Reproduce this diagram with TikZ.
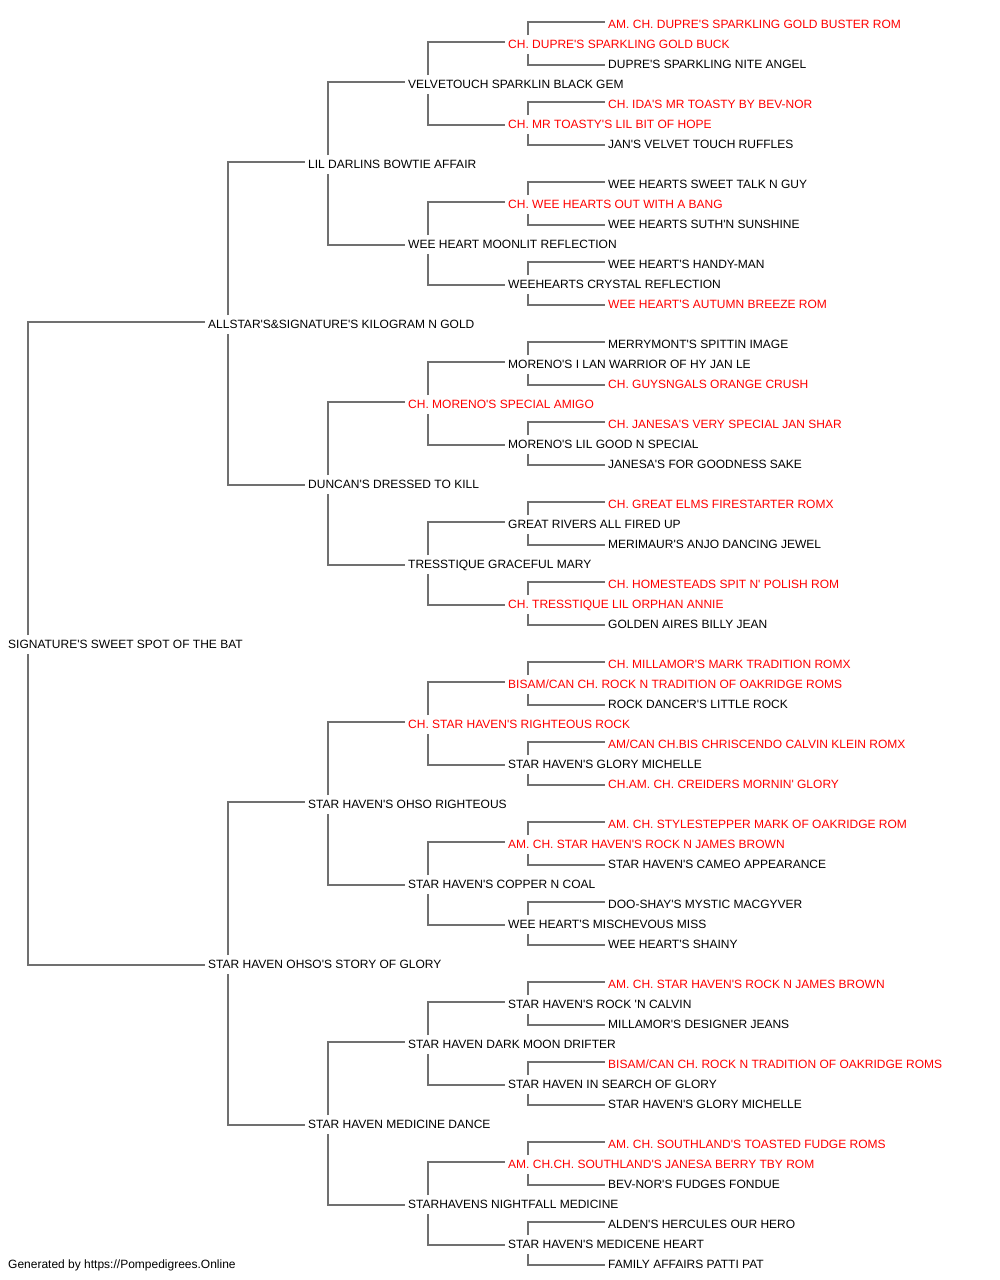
\documentclass[tikz,border=0pt]{standalone}
\usepackage{fontspec}
\setmainfont{Liberation Sans}[Ligatures=TeXOff]
\usetikzlibrary{calc}
\definecolor{pedred}{HTML}{FF0000}
\definecolor{pedline}{HTML}{707070}
\tikzset{
  pedtext/.style={anchor=west,inner sep=0pt,text height=8.6pt,text depth=0pt,font=\fontsize{12}{14}\selectfont},
  champ/.style={pedtext,text=pedred},
  plainname/.style={pedtext,text=black},
  conn/.style={draw=pedline,line width=1.1pt}
}
\newcommand\pr[3]{\node[champ] (n#1) at (#2,{24+20*#1}) {#3};}
\newcommand\pb[3]{\node[plainname] (n#1) at (#2,{24+20*#1}) {#3};}
\newcommand\pedlink[3]{%
  \draw[conn] ($(n#1.west)+(20,-9)$) |- ($(n#2.west)+(-3,-2)$);
  \draw[conn] ($(n#1.west)+(20,10)$) |- ($(n#3.west)+(-3,1)$);}
\begin{document}
\begin{tikzpicture}[x=1pt,y=-1pt]
\useasboundingbox[fill=white] (0,0) rectangle (1000,1280);
\pr{0}{608}{AM. CH. DUPRE'S SPARKLING GOLD BUSTER ROM}
\pr{1}{508}{CH. DUPRE'S SPARKLING GOLD BUCK}
\pb{2}{608}{DUPRE'S SPARKLING NITE ANGEL}
\pb{3}{408}{VELVETOUCH SPARKLIN BLACK GEM}
\pr{4}{608}{CH. IDA'S MR TOASTY BY BEV-NOR}
\pr{5}{508}{CH. MR TOASTY'S LIL BIT OF HOPE}
\pb{6}{608}{JAN'S VELVET TOUCH RUFFLES}
\pb{7}{308}{LIL DARLINS BOWTIE AFFAIR}
\pb{8}{608}{WEE HEARTS SWEET TALK N GUY}
\pr{9}{508}{CH. WEE HEARTS OUT WITH A BANG}
\pb{10}{608}{WEE HEARTS SUTH'N SUNSHINE}
\pb{11}{408}{WEE HEART MOONLIT REFLECTION}
\pb{12}{608}{WEE HEART'S HANDY-MAN}
\pb{13}{508}{WEEHEARTS CRYSTAL REFLECTION}
\pr{14}{608}{WEE HEART'S AUTUMN BREEZE ROM}
\pb{15}{208}{ALLSTAR'S\&SIGNATURE'S KILOGRAM N GOLD}
\pb{16}{608}{MERRYMONT'S SPITTIN IMAGE}
\pb{17}{508}{MORENO'S I LAN WARRIOR OF HY JAN LE}
\pr{18}{608}{CH. GUYSNGALS ORANGE CRUSH}
\pr{19}{408}{CH. MORENO'S SPECIAL AMIGO}
\pr{20}{608}{CH. JANESA'S VERY SPECIAL JAN SHAR}
\pb{21}{508}{MORENO'S LIL GOOD N SPECIAL}
\pb{22}{608}{JANESA'S FOR GOODNESS SAKE}
\pb{23}{308}{DUNCAN'S DRESSED TO KILL}
\pr{24}{608}{CH. GREAT ELMS FIRESTARTER ROMX}
\pb{25}{508}{GREAT RIVERS ALL FIRED UP}
\pb{26}{608}{MERIMAUR'S ANJO DANCING JEWEL}
\pb{27}{408}{TRESSTIQUE GRACEFUL MARY}
\pr{28}{608}{CH. HOMESTEADS SPIT N' POLISH ROM}
\pr{29}{508}{CH. TRESSTIQUE LIL ORPHAN ANNIE}
\pb{30}{608}{GOLDEN AIRES BILLY JEAN}
\pb{31}{8}{SIGNATURE'S SWEET SPOT OF THE BAT}
\pr{32}{608}{CH. MILLAMOR'S MARK TRADITION ROMX}
\pr{33}{508}{BISAM/CAN CH. ROCK N TRADITION OF OAKRIDGE ROMS}
\pb{34}{608}{ROCK DANCER'S LITTLE ROCK}
\pr{35}{408}{CH. STAR HAVEN'S RIGHTEOUS ROCK}
\pr{36}{608}{AM/CAN CH.BIS CHRISCENDO CALVIN KLEIN ROMX}
\pb{37}{508}{STAR HAVEN'S GLORY MICHELLE}
\pr{38}{608}{CH.AM. CH. CREIDERS MORNIN' GLORY}
\pb{39}{308}{STAR HAVEN'S OHSO RIGHTEOUS}
\pr{40}{608}{AM. CH. STYLESTEPPER MARK OF OAKRIDGE ROM}
\pr{41}{508}{AM. CH. STAR HAVEN'S ROCK N JAMES BROWN}
\pb{42}{608}{STAR HAVEN'S CAMEO APPEARANCE}
\pb{43}{408}{STAR HAVEN'S COPPER N COAL}
\pb{44}{608}{DOO-SHAY'S MYSTIC MACGYVER}
\pb{45}{508}{WEE HEART'S MISCHEVOUS MISS}
\pb{46}{608}{WEE HEART'S SHAINY}
\pb{47}{208}{STAR HAVEN OHSO'S STORY OF GLORY}
\pr{48}{608}{AM. CH. STAR HAVEN'S ROCK N JAMES BROWN}
\pb{49}{508}{STAR HAVEN'S ROCK 'N CALVIN}
\pb{50}{608}{MILLAMOR'S DESIGNER JEANS}
\pb{51}{408}{STAR HAVEN DARK MOON DRIFTER}
\pr{52}{608}{BISAM/CAN CH. ROCK N TRADITION OF OAKRIDGE ROMS}
\pb{53}{508}{STAR HAVEN IN SEARCH OF GLORY}
\pb{54}{608}{STAR HAVEN'S GLORY MICHELLE}
\pb{55}{308}{STAR HAVEN MEDICINE DANCE}
\pr{56}{608}{AM. CH. SOUTHLAND'S TOASTED FUDGE ROMS}
\pr{57}{508}{AM. CH.CH. SOUTHLAND'S JANESA BERRY TBY ROM}
\pb{58}{608}{BEV-NOR'S FUDGES FONDUE}
\pb{59}{408}{STARHAVENS NIGHTFALL MEDICINE}
\pb{60}{608}{ALDEN'S HERCULES OUR HERO}
\pb{61}{508}{STAR HAVEN'S MEDICENE HEART}
\pb{62}{608}{FAMILY AFFAIRS PATTI PAT}
\node[plainname] (footer) at (8,1264) {Generated by https://Pompedigrees.Online};
\foreach \p in {1,5,...,61}{\pgfmathtruncatemacro\pedS{\p-1}\pgfmathtruncatemacro\pedD{\p+1}\pedlink{\p}{\pedS}{\pedD}}
\foreach \p in {3,11,...,59}{\pgfmathtruncatemacro\pedS{\p-2}\pgfmathtruncatemacro\pedD{\p+2}\pedlink{\p}{\pedS}{\pedD}}
\foreach \p in {7,23,39,55}{\pgfmathtruncatemacro\pedS{\p-4}\pgfmathtruncatemacro\pedD{\p+4}\pedlink{\p}{\pedS}{\pedD}}
\foreach \p in {15,47}{\pgfmathtruncatemacro\pedS{\p-8}\pgfmathtruncatemacro\pedD{\p+8}\pedlink{\p}{\pedS}{\pedD}}
\pedlink{31}{15}{47}
\end{tikzpicture}
\end{document}
